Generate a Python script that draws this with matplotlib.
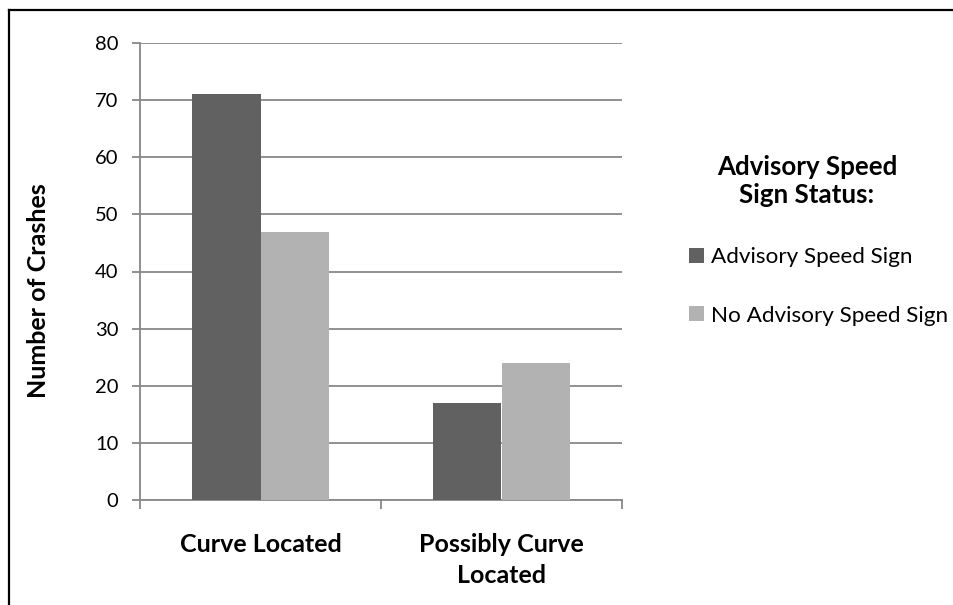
import matplotlib
matplotlib.use("Agg")
import matplotlib.pyplot as plt
from matplotlib.lines import Line2D
import numpy as np

categories = ["Curve Located", "Possibly Curve\nLocated"]
series_names = ["Advisory Speed Sign", "No Advisory Speed Sign"]
advisory = [71, 17]
no_advisory = [47, 24]
yticks = [0, 10, 20, 30, 40, 50, 60, 70, 80]
legend_title = "Advisory Speed\nSign Status:"
ylabel = "Number of Crashes"

plt.rcParams['font.family'] = ['Lato', 'DejaVu Sans']

W, H = 954, 605
fig = plt.figure(figsize=(W / 100, H / 100), dpi=100)
ax = fig.add_axes([140 / W, 1 - 500 / H, (622 - 140) / W, (500 - 43) / H])

dark = "#616161"
light = "#b2b2b2"
grid = "#888888"

x = np.arange(len(categories))
bw = 0.286
b1 = ax.bar(x - bw / 2, advisory, bw, color=dark, label=series_names[0], zorder=3)
b2 = ax.bar(x + bw / 2, no_advisory, bw, color=light, label=series_names[1], zorder=3)

ax.set_xlim(-0.5, len(categories) - 0.5)
ax.set_ylim(0, 80)
ax.set_yticks(yticks)
ax.set_yticklabels([str(v) for v in yticks], fontsize=14.5)
ax.yaxis.grid(True, color=grid, linewidth=1.3, zorder=0)
ax.set_axisbelow(True)

ax.set_xticks([-0.5, 0.5, 1.5])
ax.set_xticklabels([])
ax.set_xticks(x, minor=True)
ax.set_xticklabels(categories, minor=True, fontsize=18, fontweight='bold',
                   linespacing=1.46, va='top')
ax.tick_params(axis='x', which='minor', length=0, pad=23.5)
ax.tick_params(axis='x', which='major', length=6.5, color=grid, width=1.3)
ax.tick_params(axis='y', length=5.5, color=grid, width=1.3, pad=10)

for s in ['top', 'right']:
    ax.spines[s].set_visible(False)
for s in ['left', 'bottom']:
    ax.spines[s].set_color(grid)
    ax.spines[s].set_linewidth(1.3)

ax.set_ylabel(ylabel, fontsize=18, fontweight='bold')
ax.yaxis.set_label_coords(39 / W, 1 - 291 / H, transform=fig.transFigure)
ax.yaxis.label.set_va('center')

fig.text(807 / W, 1 - 181 / H, legend_title, ha='center', va='center',
         fontsize=18.6, fontweight='bold', linespacing=1.17)
leg = fig.legend(handles=[b1, b2], labels=series_names, loc='center left',
                 bbox_to_anchor=(689 / W, 1 - 286.5 / H), frameon=False,
                 fontsize=16.2, handlelength=0.65, handleheight=0.65,
                 handletextpad=0.32, labelspacing=1.72, borderaxespad=0,
                 borderpad=0)

fig.add_artist(Line2D([9 / W, 9 / W], [0, 1 - 10 / H], transform=fig.transFigure,
                      color='black', linewidth=1.6))
fig.add_artist(Line2D([9 / W, 1], [1 - 10 / H, 1 - 10 / H], transform=fig.transFigure,
                      color='black', linewidth=1.6))

fig.savefig("out.png", dpi=100)
